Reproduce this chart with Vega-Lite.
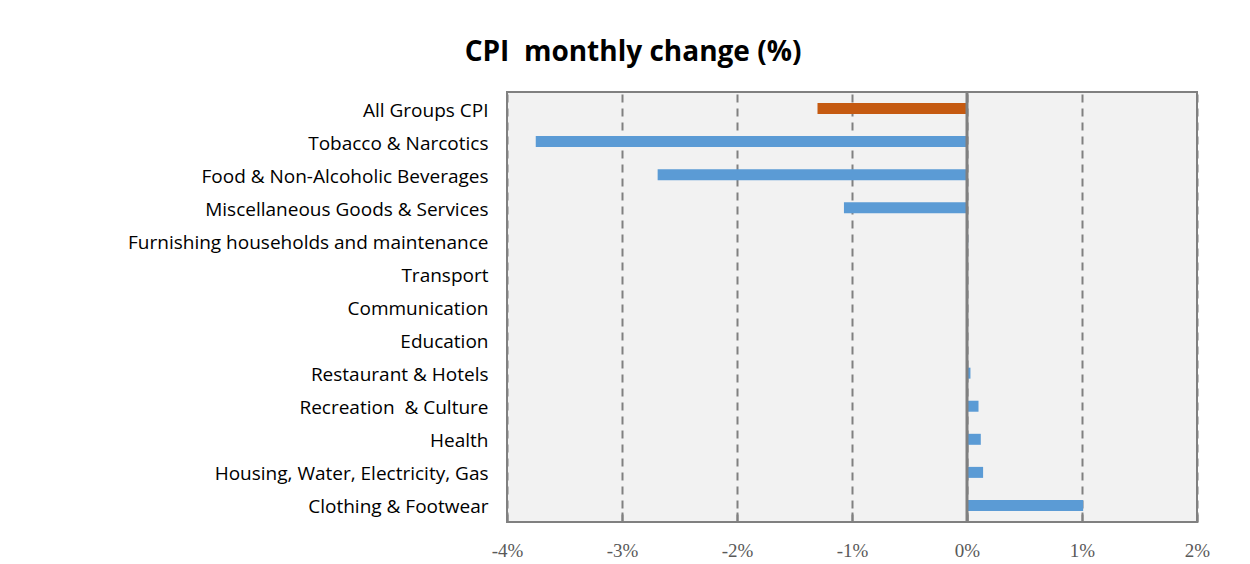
{
  "$schema": "https://vega.github.io/schema/vega-lite/v6.json",
  "autosize": {"type": "none"},
  "padding": {"left": 507, "top": 92, "right": 53, "bottom": 42},
  "width": 690,
  "height": 430,
  "background": "white",
  "title": {
    "text": "CPI\u00a0 monthly change (%)",
    "anchor": "middle",
    "dx": -219,
    "offset": 24,
    "font": "Open Sans",
    "fontSize": 28,
    "fontWeight": "bold",
    "color": "#000000"
  },
  "config": {
    "view": {"fill": "#f2f2f2", "stroke": "#808080", "strokeWidth": 2}
  },
  "data": {
    "values": [
      {"category": "All Groups CPI", "change": -1.30, "group": "total"},
      {"category": "Tobacco & Narcotics", "change": -3.75, "group": "component"},
      {"category": "Food & Non-Alcoholic Beverages", "change": -2.69, "group": "component"},
      {"category": "Miscellaneous Goods & Services", "change": -1.07, "group": "component"},
      {"category": "Furnishing households and maintenance", "change": 0.01, "group": "component"},
      {"category": "Transport", "change": 0, "group": "component"},
      {"category": "Communication", "change": 0, "group": "component"},
      {"category": "Education", "change": 0, "group": "component"},
      {"category": "Restaurant & Hotels", "change": 0.03, "group": "component"},
      {"category": "Recreation\u00a0 & Culture", "change": 0.10, "group": "component"},
      {"category": "Health", "change": 0.12, "group": "component"},
      {"category": "Housing, Water, Electricity, Gas", "change": 0.14, "group": "component"},
      {"category": "Clothing & Footwear", "change": 1.01, "group": "component"}
    ]
  },
  "layer": [
    {
      "mark": {"type": "bar", "height": 11},
      "encoding": {
        "y": {
          "field": "category",
          "type": "nominal",
          "sort": null,
          "title": null,
          "axis": {
            "domain": false,
            "ticks": false,
            "labelFont": "Open Sans",
            "labelFontSize": 19,
            "labelColor": "#000000",
            "labelPadding": 19,
            "labelOffset": 2,
            "labelLimit": 500
          }
        },
        "x": {
          "field": "change",
          "type": "quantitative",
          "scale": {"domain": [-4, 2], "nice": false},
          "title": null,
          "axis": {
            "values": [-4, -3, -2, -1, 0, 1, 2],
            "labelExpr": "datum.value + '%'",
            "labelFont": "Liberation Serif",
            "labelFontSize": 19,
            "labelColor": "#595959",
            "labelPadding": 29,
            "labelFlush": false,
            "domain": false,
            "tickSize": -10,
            "tickColor": "#808080",
            "tickWidth": 2,
            "grid": true,
            "gridColor": "#808080",
            "gridWidth": 2,
            "gridDash": [8, 6]
          }
        },
        "color": {
          "field": "group",
          "type": "nominal",
          "scale": {"domain": ["total", "component"], "range": ["#C55A11", "#5B9BD5"]},
          "legend": null
        }
      }
    },
    {
      "data": {"values": [{"zero": 0}]},
      "mark": {"type": "rule", "color": "#808080", "strokeWidth": 3},
      "encoding": {
        "x": {"field": "zero", "type": "quantitative"}
      }
    }
  ]
}
